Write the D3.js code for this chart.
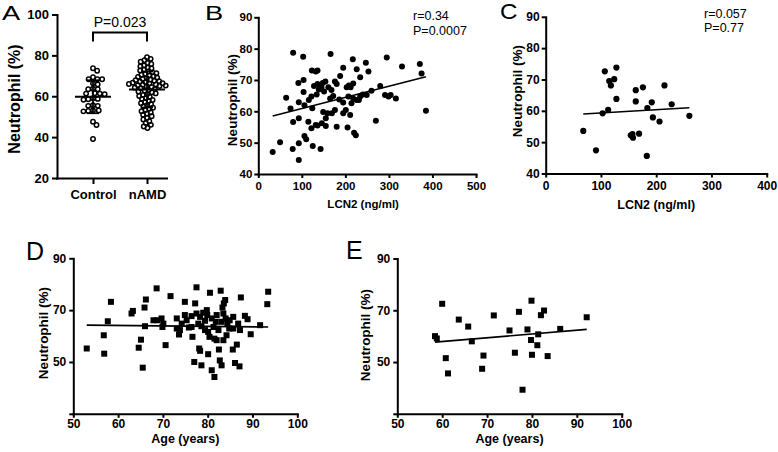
<!DOCTYPE html>
<html>
<head>
<meta charset="utf-8">
<script src="https://cdn.jsdelivr.net/npm/d3@7/dist/d3.min.js"></script>
<style>
html,body{margin:0;padding:0;background:#fff;}
svg{display:block;}
</style>
</head>
<body>
<svg id="chart" width="778" height="452"></svg>
<script>
// ================= DATA =================
// Panel A
const groupCategories = ["Control", "nAMD"];
const controlNeutrophil = [73.7, 72.5, 69.3, 68.3, 68.3, 68.3, 66.3, 65.8, 63.7, 63.4, 63.4, 61.5, 61.3, 61.3, 61.0,
  59.0, 58.7, 58.5, 58.3, 55.6, 55.3, 55.3, 53.1, 53.0, 52.8, 52.6, 47.5, 45.9, 39.1];
const namdNeutrophil = [79.1, 78.3, 77.6, 76.9, 76.3, 75.8, 75.1, 74.6, 74.0, 73.6, 73.0, 72.6, 72.1, 71.7, 71.3,
  70.9, 70.5, 70.2, 69.8, 69.5, 69.1, 68.8, 68.5, 68.2, 67.9, 67.6, 67.4, 67.1, 66.9, 66.6, 66.4, 66.2, 66.0,
  65.8, 65.6, 65.4, 65.2, 65.0, 64.8, 64.5, 64.2, 63.9, 63.5, 63.1, 62.7, 62.3, 61.9, 61.4, 61.0, 60.6, 60.1,
  59.6, 59.1, 58.7, 58.2, 57.7, 57.2, 56.6, 56.1, 55.6, 55.0, 54.4, 53.9, 53.3, 52.7, 52.1, 51.5, 50.9, 50.2,
  49.4, 48.6, 47.8, 46.9, 46.0, 45.2, 44.5];
const yTicksA = [20, 40, 60, 80, 100];
const pTextA = "P=0.023";

// Panel B
const lcn2B = [33, 50, 64, 74, 80, 80, 79, 93, 93, 93, 92, 93, 103, 104, 104, 106, 106, 110, 116, 122, 122, 124, 125,
  123, 128, 132, 134, 136, 136, 139, 136, 143, 145, 146, 149, 151, 154, 155, 155, 159, 161, 166, 168, 172, 176, 176,
  180, 186, 188, 195, 195, 195, 201, 203, 205, 208, 211, 214, 217, 218, 218, 220, 224, 226, 226, 234, 234, 240, 247,
  253, 260, 270, 280, 291, 295, 299, 304, 316, 330, 371, 375, 385, 148, 165, 180, 169, 212, 207, 249, 231, 132, 115];
const neutrophilB = [47.0, 50.1, 64.3, 60.9, 78.7, 56.6, 48.0, 57.8, 49.8, 44.5, 69.0, 62.9, 77.4, 70.0, 66.2, 61.9,
  52.1, 51.1, 63.6, 64.7, 54.6, 61.0, 48.9, 73.0, 68.1, 72.7, 65.4, 73.0, 68.7, 67.0, 55.5, 48.0, 67.7, 56.2, 59.8,
  66.3, 69.5, 55.3, 57.8, 59.4, 67.7, 78.3, 66.8, 64.9, 69.5, 60.4, 55.1, 63.8, 71.3, 73.9, 62.8, 59.4, 60.4, 67.7,
  54.8, 68.2, 58.8, 62.6, 76.6, 68.9, 64.1, 53.2, 52.4, 73.4, 63.6, 70.9, 64.7, 65.4, 75.5, 72.7, 66.6, 57.0, 68.1,
  65.2, 77.2, 64.7, 65.2, 64.1, 74.3, 75.1, 72.1, 60.2, 69.0, 64.1, 68.7, 59.4, 67.7, 64.7, 65.2, 63.6, 55.6, 56.7];
const fitBx = [33, 385];
const fitBy = [58.5, 71.0];
const statsB = ["r=0.34", "P=0.0007"];
const xTicksB = [0, 100, 200, 300, 400, 500];
const yTicksBC = [40, 50, 60, 70, 80, 90];

// Panel C
const lcn2C = [68, 91, 107, 128, 115, 124, 118, 128, 113, 103, 163, 176, 163, 192, 184, 194, 206, 215, 228, 260,
  154, 158, 169, 183, 157];
const neutrophilC = [53.6, 47.4, 72.6, 73.8, 69.5, 70.1, 68.1, 63.8, 60.3, 59.2, 66.6, 67.5, 63.0, 62.7, 60.9, 57.9,
  56.6, 68.1, 62.1, 58.4, 52.2, 51.4, 52.7, 45.6, 52.6];
const fitCx = [68, 260];
const fitCy = [59.0, 61.0];
const statsC = ["r=0.057", "P=0.77"];
const xTicksC = [0, 100, 200, 300, 400];

// Panel D
const ageD = [53.0, 56.9, 56.8, 57.7, 58.4, 63.0, 63.3, 64.6, 65.1, 65.5, 65.9, 66.2, 66.0, 68.6, 67.9, 68.8, 69.7,
  69.9, 70.1, 70.6, 71.7, 73.1, 73.1, 73.6, 74.2, 74.9, 74.9, 75.3, 75.8, 76.4, 76.6, 77.0, 77.2, 77.5, 77.5, 77.9,
  78.1, 78.3, 78.6, 78.6, 79.0, 79.4, 79.8, 79.9, 80.1, 80.1, 80.4, 80.5, 80.9, 80.9, 81.3, 81.5, 81.5, 81.8, 82.0,
  82.4, 82.5, 82.7, 82.9, 83.1, 83.1, 83.3, 83.5, 83.6, 83.9, 84.0, 83.5, 84.2, 84.4, 84.9, 85.6, 85.7, 86.1, 86.5,
  86.8, 87.2, 87.1, 87.4, 88.3, 88.9, 89.6, 91.7, 93.5, 93.3, 78.3, 82.0, 76.4, 85.7, 79.4, 73.8, 84.8];
const neutrophilD = [55.2, 53.2, 60.3, 65.7, 73.2, 68.7, 69.7, 55.5, 58.6, 47.8, 71.0, 74.1, 63.8, 78.4, 66.1, 66.1,
  66.8, 63.5, 64.8, 56.5, 75.4, 66.8, 62.9, 60.6, 64.8, 73.2, 68.1, 66.1, 63.3, 67.7, 59.7, 50.0, 72.6, 78.8, 68.7,
  64.8, 55.2, 54.3, 48.7, 63.8, 69.0, 65.9, 70.0, 68.1, 61.6, 53.0, 59.7, 76.7, 66.8, 46.8, 63.5, 59.0, 44.2, 65.5,
  58.4, 62.3, 54.8, 50.6, 77.5, 48.7, 65.5, 71.0, 68.7, 72.6, 73.9, 66.8, 58.4, 60.3, 64.8, 66.1, 54.8, 62.9, 49.6,
  56.7, 64.8, 62.3, 48.3, 74.9, 67.8, 66.5, 60.7, 64.2, 77.1, 72.3, 67.4, 68.1, 63.5, 67.4, 62.3, 62.3, 62.9];
const fitDx = [53, 93.5];
const fitDy = [64.2, 63.5];

// Panel E
const ageE = [58.4, 58.8, 60.0, 60.8, 61.3, 63.7, 65.8, 66.6, 68.9, 69.2, 71.5, 75.0, 76.2, 77.1, 77.9, 79.0, 79.8,
  79.9, 80.0, 81.2, 81.4, 82.0, 82.7, 83.5, 86.3, 92.2];
const neutrophilE = [60.0, 59.1, 72.5, 51.5, 45.6, 66.4, 63.7, 58.0, 47.4, 52.5, 68.0, 62.2, 53.6, 69.4, 39.3, 62.6,
  58.5, 73.7, 52.8, 56.5, 60.7, 68.1, 69.9, 52.3, 62.8, 67.3];
const fitEx = [58.4, 92.2];
const fitEy = [57.7, 62.6];

const xTicksAge = [50, 60, 70, 80, 90, 100];
const yTicksAge = [30, 50, 70, 90];
const yTickLabelsAge = ["", "50", "70", "90"];
const panelLetters = ["A", "B", "C", "D", "E"];

// ================= DRAWING =================
const FONT = '"Liberation Sans", Arial, Helvetica, sans-serif';
const svg = d3.select("#chart");
svg.append("rect").attr("width", 778).attr("height", 452).attr("fill", "#fff");

function styleAxis(g, fs) {
  g.select(".domain").attr("stroke", "#000").attr("stroke-width", 2).attr("stroke-linecap", "square");
  g.selectAll(".tick line").attr("stroke", "#000").attr("stroke-width", 2);
  g.selectAll(".tick text").attr("fill", "#000").attr("font-family", FONT)
    .attr("font-weight", "bold").attr("font-size", fs);
}

function addText(x, y, txt, opts) {
  const t = svg.append("text").attr("x", x).attr("y", y).text(txt)
    .attr("font-family", FONT).attr("fill", "#000")
    .attr("font-size", opts.fs).attr("font-weight", opts.bold ? "bold" : "normal")
    .attr("text-anchor", opts.anchor || "start");
  if (opts.rotate) t.attr("transform", `rotate(-90,${x},${y})`);
  return t;
}

function panelLetter(letter, x, y, fs, sx) {
  svg.append("text").attr("transform", `translate(${x},${y}) scale(${sx},1)`)
    .text(letter).attr("font-family", FONT).attr("font-size", fs).attr("fill", "#000");
}

function scatterPanel(o) {
  const x = d3.scaleLinear().domain(o.xDomain).range(o.xRange);
  const y = d3.scaleLinear().domain(o.yDomain).range(o.yRange);
  const g = svg.append("g");
  const ax = g.append("g").attr("transform", `translate(0,${o.yRange[0]})`)
    .call(d3.axisBottom(x).tickValues(o.xTicks).tickFormat(d3.format("d"))
      .tickSizeOuter(0).tickSizeInner(o.tick).tickPadding(o.xPad));
  styleAxis(ax, o.tickFs);
  const ay = g.append("g").attr("transform", `translate(${o.xRange[0]},0)`)
    .call(d3.axisLeft(y).tickValues(o.yTicks)
      .tickFormat((d, i) => o.yLabels ? o.yLabels[i] : d)
      .tickSizeOuter(0).tickSizeInner(o.tick).tickPadding(o.yPad));
  styleAxis(ay, o.tickFs);

  const pts = o.xs.map((v, i) => ({ x: v, y: o.ys[i] }));
  if (o.shape === "circle") {
    g.append("g").selectAll("circle").data(pts).join("circle")
      .attr("cx", d => x(d.x)).attr("cy", d => y(d.y)).attr("r", o.size).attr("fill", "#000");
  } else {
    g.append("g").selectAll("rect").data(pts).join("rect")
      .attr("x", d => x(d.x) - o.size / 2).attr("y", d => y(d.y) - o.size / 2)
      .attr("width", o.size).attr("height", o.size).attr("fill", "#000");
  }
  g.append("line")
    .attr("x1", x(o.fitX[0])).attr("y1", y(o.fitY[0]))
    .attr("x2", x(o.fitX[1])).attr("y2", y(o.fitY[1]))
    .attr("stroke", "#000").attr("stroke-width", 1.6);

  addText((o.xRange[0] + o.xRange[1]) / 2 + (o.xTitleDx || 0), o.xTitleY, o.xTitle,
    { fs: o.xTitleFs, bold: true, anchor: "middle" });
  addText(o.yTitleX, o.yTitleY, "Neutrophil (%)", { fs: o.yTitleFs, bold: true, anchor: "middle", rotate: true });
  if (o.stats) {
    o.stats.forEach((s, i) => addText(o.statsX, o.statsY[i], s, { fs: 12.5 }));
  }
}

// ---------- Panel A ----------
(function () {
  const y = d3.scaleLinear().domain([20, 100]).range([178, 14.5]);
  const x = d3.scalePoint().domain(groupCategories).range([93, 147]);
  const ay = svg.append("g").attr("transform", "translate(57,0)")
    .call(d3.axisLeft(y).tickValues(yTicksA).tickSizeOuter(0).tickSizeInner(5).tickPadding(3));
  styleAxis(ay, 13);
  const ax = svg.append("g").attr("transform", "translate(0,178)")
    .call(d3.axisBottom(x).tickSizeOuter(0).tickSizeInner(6).tickPadding(6));
  ax.select(".domain").remove();
  styleAxis(ax, 13);
  svg.append("line").attr("x1", 57).attr("x2", 167).attr("y1", 178.5).attr("y2", 178.5)
    .attr("stroke", "#000").attr("stroke-width", 2).attr("stroke-linecap", "square");

  const r = 2.2;
  function dodge(vals, diam) {
    const arr = vals.map(v => ({ v, py: y(v), dx: 0 })).sort((a, b) => a.py - b.py);
    const placed = [];
    for (const p of arr) {
      const cands = [0];
      for (const q of placed) {
        const dy = Math.abs(q.py - p.py);
        if (dy < diam) {
          const dd = Math.sqrt(diam * diam - dy * dy);
          cands.push(q.dx + dd, q.dx - dd);
        }
      }
      cands.sort((a, b) => Math.abs(a) - Math.abs(b));
      for (const c of cands) {
        if (placed.every(q => (q.dx - c) ** 2 + (q.py - p.py) ** 2 >= diam * diam - 1e-6)) { p.dx = c; break; }
      }
      placed.push(p);
    }
    return placed;
  }
  const groups = [controlNeutrophil, namdNeutrophil];
  const diams = [4.8, 4.0];
  groups.forEach((vals, gi) => {
    const cx = x(groupCategories[gi]);
    const m = d3.mean(vals), sd = d3.deviation(vals);
    const eb = svg.append("g").attr("stroke", "#000").attr("stroke-width", 1.8);
    eb.append("line").attr("x1", cx - 18).attr("x2", cx + 18).attr("y1", y(m)).attr("y2", y(m));
    eb.append("line").attr("x1", cx).attr("x2", cx).attr("y1", y(m - sd)).attr("y2", y(m + sd));
    eb.append("line").attr("x1", cx - 6).attr("x2", cx + 6).attr("y1", y(m - sd)).attr("y2", y(m - sd));
    eb.append("line").attr("x1", cx - 6).attr("x2", cx + 6).attr("y1", y(m + sd)).attr("y2", y(m + sd));
    svg.append("g").selectAll("circle").data(dodge(vals, diams[gi])).join("circle")
      .attr("cx", d => cx + d.dx).attr("cy", d => d.py).attr("r", r)
      .attr("fill", "none").attr("stroke", "#000").attr("stroke-width", 1.5);
  });
  // bracket
  const x0 = x(groupCategories[0]), x1 = x(groupCategories[1]);
  svg.append("path").attr("d", `M${x0},41.5V32.5H${x1}V41.5`)
    .attr("fill", "none").attr("stroke", "#000").attr("stroke-width", 2);
  addText((x0 + x1) / 2, 27, pTextA, { fs: 14, anchor: "middle" });
  addText(20, 99, "Neutrophil (%)", { fs: 16, bold: true, anchor: "middle", rotate: true });
  panelLetter(panelLetters[0], 2, 20, 21, 1.3);
})();

// ---------- Panel B ----------
scatterPanel({
  xs: lcn2B, ys: neutrophilB, xDomain: [0, 500], yDomain: [40, 90],
  xRange: [258.3, 476], yRange: [174, 17.3], xTicks: xTicksB, yTicks: yTicksBC,
  tick: 4, xPad: 4, yPad: 2, tickFs: 11.5, shape: "circle", size: 3,
  fitX: fitBx, fitY: fitBy, xTitle: "LCN2 (ng/ml)", xTitleY: 208, xTitleFs: 11.5, xTitleDx: -4,
  yTitleX: 237, yTitleY: 100, yTitleFs: 13.5, stats: statsB, statsX: 413, statsY: [20, 35]
});
panelLetter(panelLetters[1], 205, 20, 21, 1.3);

// ---------- Panel C ----------
scatterPanel({
  xs: lcn2C, ys: neutrophilC, xDomain: [0, 400], yDomain: [40, 90],
  xRange: [545.7, 766.7], yRange: [173.5, 16.8], xTicks: xTicksC, yTicks: yTicksBC,
  tick: 4, xPad: 4, yPad: 2, tickFs: 12, shape: "circle", size: 3.1,
  fitX: fitCx, fitY: fitCy, xTitle: "LCN2 (ng/ml)", xTitleY: 209, xTitleFs: 12.5,
  yTitleX: 522, yTitleY: 91, yTitleFs: 13.5, stats: statsC, statsX: 704, statsY: [18, 32]
});
panelLetter(panelLetters[2], 500, 19, 22, 1.1);

// ---------- Panel D ----------
scatterPanel({
  xs: ageD, ys: neutrophilD, xDomain: [50, 100], yDomain: [30, 90],
  xRange: [73.3, 297.3], yRange: [413.8, 258.3], xTicks: xTicksAge, yTicks: yTicksAge, yLabels: yTickLabelsAge,
  tick: 4, xPad: 2, yPad: 3, tickFs: 12, shape: "rect", size: 6,
  fitX: fitDx, fitY: fitDy, xTitle: "Age (years)", xTitleY: 443, xTitleFs: 12.5,
  yTitleX: 48, yTitleY: 333, yTitleFs: 13.5
});
panelLetter(panelLetters[3], 26, 260, 25, 1);

// ---------- Panel E ----------
scatterPanel({
  xs: ageE, ys: neutrophilE, xDomain: [50, 100], yDomain: [30, 90],
  xRange: [397.3, 621.7], yRange: [413.8, 258.5], xTicks: xTicksAge, yTicks: yTicksAge, yLabels: yTickLabelsAge,
  tick: 4, xPad: 2, yPad: 3, tickFs: 12, shape: "rect", size: 6,
  fitX: fitEx, fitY: fitEy, xTitle: "Age (years)", xTitleY: 443, xTitleFs: 12.5,
  yTitleX: 370, yTitleY: 335, yTitleFs: 13.5
});
panelLetter(panelLetters[4], 346, 259, 25, 1);
</script>
</body>
</html>
